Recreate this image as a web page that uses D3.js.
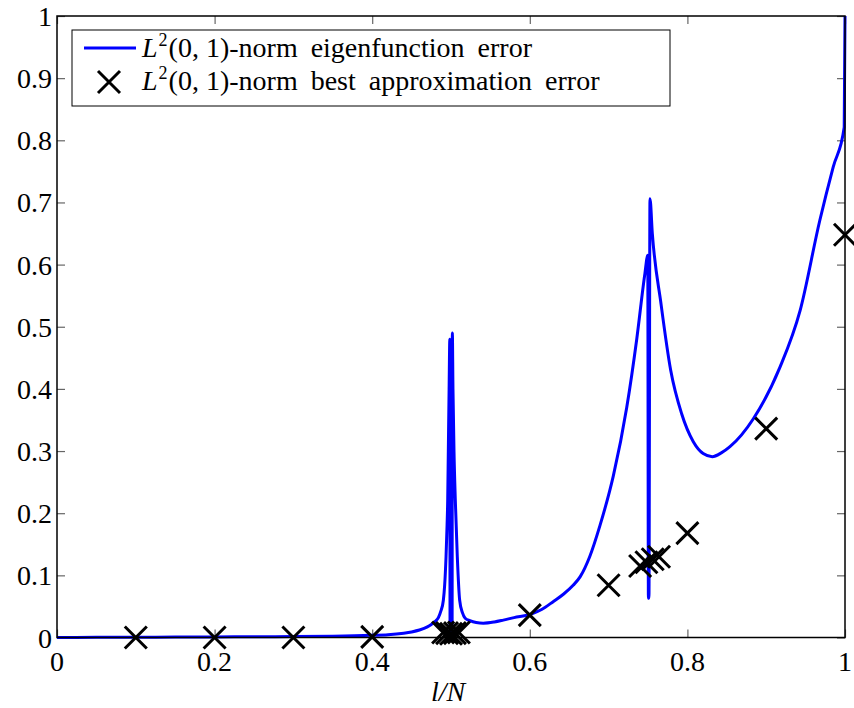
<!DOCTYPE html>
<html>
<head>
<meta charset="utf-8">
<script src="https://cdn.jsdelivr.net/npm/d3@7"></script>
</head>
<body style="margin:0">
<svg id="chart" width="854" height="708"></svg>
<script>
// eigenfunction error curve
const curveX = [0, 0.05, 0.1, 0.15, 0.2, 0.25, 0.3, 0.35, 0.4, 0.42, 0.44, 0.45, 0.46, 0.47, 0.475, 0.48,
  0.484, 0.487, 0.4903, 0.492, 0.4937, 0.495, 0.4958, 0.4966, 0.4976, 0.4985, 0.4988, 0.5014, 0.5017,
  0.5025, 0.5038, 0.5055, 0.508, 0.511, 0.5145, 0.518, 0.524, 0.532, 0.541, 0.555, 0.5664, 0.58, 0.6003,
  0.615, 0.63, 0.643, 0.655, 0.664, 0.676, 0.689, 0.706, 0.723, 0.7357, 0.746, 0.7497, 0.7505, 0.7512,
  0.7525, 0.7555, 0.7665, 0.7788, 0.7927, 0.8075, 0.82, 0.8316, 0.843, 0.854, 0.8837, 0.9175, 0.943,
  0.968, 0.985, 0.999, 1.0];
const curveY = [0, 0.0003, 0.0005, 0.0007, 0.001, 0.0012, 0.0015, 0.002, 0.0035, 0.0045, 0.007, 0.009, 0.012, 0.017, 0.021, 0.026,
  0.032, 0.042, 0.06, 0.085, 0.13, 0.18, 0.22, 0.3, 0.4, 0.48, 0.007, 0.007, 0.49,
  0.4, 0.3, 0.22, 0.13, 0.06, 0.04, 0.031, 0.027, 0.024, 0.023, 0.025, 0.028, 0.032, 0.037,
  0.045, 0.058, 0.07, 0.084, 0.098, 0.13, 0.18, 0.26, 0.37, 0.48, 0.585, 0.615, 0.063, 0.063,
  0.706, 0.65, 0.537, 0.43, 0.36, 0.315, 0.296, 0.291, 0.297, 0.307, 0.352, 0.435, 0.526,
  0.671, 0.757, 0.821, 1.0];

// best approximation error (crosses)
const markX = [0.1, 0.2, 0.3, 0.4, 0.49, 0.495, 0.5, 0.505, 0.51, 0.6, 0.7, 0.74, 0.748, 0.756, 0.764, 0.8, 0.9, 1.0];
const markY = [0, 0, 0, 0.001, 0.008, 0.007, 0.006, 0.007, 0.008, 0.036, 0.084, 0.115, 0.121, 0.126, 0.13, 0.168, 0.336, 0.648];

const xTicks = [0, 0.2, 0.4, 0.6, 0.8, 1];
const yTicks = [0, 0.1, 0.2, 0.3, 0.4, 0.5, 0.6, 0.7, 0.8, 0.9, 1];

const legendLabels = ["eigenfunction error", "best approximation error"];

const svg = d3.select("#chart");
const plotL = 57, plotR = 845, plotT = 16, plotB = 637.5;
const fontSize = 28;

const x = d3.scaleLinear().domain([0, 1]).range([plotL, plotR]);
const y = d3.scaleLinear().domain([0, 1]).range([plotB, plotT]);
const fmt = d => d3.format("")(d);

function addText(str, px, py, size, italic) {
  const t = svg.append("text")
    .attr("x", px).attr("y", py)
    .attr("font-family", "Liberation Serif")
    .attr("font-size", size)
    .text(str);
  if (italic) t.attr("font-style", "italic");
  return t;
}
const widthOf = t => t.node().getComputedTextLength();
const cross = s => `M${-s},${-s}L${s},${s}M${-s},${s}L${s},${-s}`;

// legend box first, then every text, then the plot marks
svg.append("rect")
  .attr("x", 72).attr("y", 30).attr("width", 598).attr("height", 76)
  .attr("fill", "#fff").attr("stroke", "#000").attr("stroke-width", 1);

const rows = [57, 90];
const rowEnds = [597, 657];
const lgSize = 28;
legendLabels.forEach((lab, i) => {
  const base = rows[i];
  const L = addText("L", 142, base, lgSize, true);
  let cx = 142 + widthOf(L) + 1;
  const sup = addText("2", cx, base - 11, 18);
  cx += widthOf(sup) + 1;
  const words = ["(0, 1)-norm"].concat(lab.split(" "));
  const parts = words.map(w => addText(w, 0, base, lgSize));
  const widths = parts.map(widthOf);
  const natural = d3.sum(widths) + 7 * (words.length - 1);
  const extra = Math.max(0, Math.min(6, (rowEnds[i] - cx - natural) / (words.length - 1)));
  parts.forEach((p, j) => {
    p.attr("x", cx);
    cx += widths[j] + 7 + extra;
  });
});

// tick labels
xTicks.forEach(v => {
  const t = addText(fmt(v), 0, plotB + 33, fontSize);
  t.attr("x", x(v) - widthOf(t) / 2);
});
yTicks.forEach(v => {
  const t = addText(fmt(v), 0, y(v) + 10, fontSize);
  t.attr("x", plotL - 5 - widthOf(t));
});

// x label
const xl = addText("l/N", 0, 701, fontSize, true);
xl.attr("x", 448 - widthOf(xl) / 2);

// legend marks
svg.append("line")
  .attr("x1", 84).attr("x2", 136).attr("y1", 48).attr("y2", 48)
  .attr("stroke", "#0000ff").attr("stroke-width", 3);
svg.append("path")
  .attr("transform", "translate(109,82)")
  .attr("d", cross(11))
  .attr("stroke", "#000").attr("stroke-width", 3).attr("fill", "none");

// inward ticks on all four sides
const tickLen = 8;
svg.append("g").attr("transform", `translate(0,${plotB})`)
  .call(d3.axisBottom(x).tickValues(xTicks).tickFormat("").tickSize(-tickLen));
svg.append("g").attr("transform", `translate(0,${plotT})`)
  .call(d3.axisTop(x).tickValues(xTicks).tickFormat("").tickSize(-tickLen));
svg.append("g").attr("transform", `translate(${plotL},0)`)
  .call(d3.axisLeft(y).tickValues(yTicks).tickFormat("").tickSize(-tickLen));
svg.append("g").attr("transform", `translate(${plotR},0)`)
  .call(d3.axisRight(y).tickValues(yTicks).tickFormat("").tickSize(-tickLen));
svg.selectAll(".domain").remove();
svg.selectAll(".tick text").remove();
svg.selectAll(".tick line").attr("stroke", "#666").attr("stroke-width", 1.2);

// the curve
const pts = curveX.map((d, i) => [d, curveY[i]]);
svg.append("path")
  .datum(pts)
  .attr("fill", "none")
  .attr("stroke", "#0000ff")
  .attr("stroke-width", 3)
  .attr("stroke-linejoin", "round")
  .attr("d", d3.line().curve(d3.curveMonotoneX).x(d => x(d[0])).y(d => y(d[1])));

// crosses
svg.append("g").selectAll("path")
  .data(markX.map((d, i) => [d, markY[i]]))
  .join("path")
  .attr("transform", d => `translate(${x(d[0])},${y(d[1])})`)
  .attr("d", cross(11))
  .attr("stroke", "#000")
  .attr("stroke-width", 3)
  .attr("fill", "none");

// frame
svg.append("rect")
  .attr("x", plotL).attr("y", plotT)
  .attr("width", plotR - plotL).attr("height", plotB - plotT)
  .attr("fill", "none").attr("stroke", "#000").attr("stroke-width", 1.5);
</script>
</body>
</html>
